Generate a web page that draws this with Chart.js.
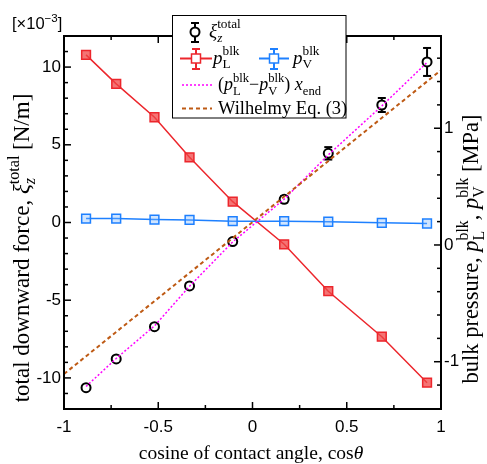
<!DOCTYPE html>
<html>
<head>
<meta charset="utf-8">
<script src="https://cdn.jsdelivr.net/npm/chart.js@4.4.0/dist/chart.umd.min.js"></script>
<style>
  html, body { margin: 0; padding: 0; background: #fff; }
  canvas { display: block; }
</style>
</head>
<body>
<canvas id="forceChart" width="487" height="464"></canvas>
<script>
// cos(theta) of the simulated contact angles
const cosTheta = [-0.883, -0.723, -0.520, -0.334, -0.105, 0.168, 0.402, 0.686, 0.926];
// total downward force xi_z^total [x1e-3 N/m] and its error bar
const xiTotal = [-10.63, -8.78, -6.70, -4.08, -1.23, 1.49, 4.45, 7.56, 10.33];
const xiError = [0.12, 0.12, 0.12, 0.15, 0.15, 0.2, 0.4, 0.45, 0.9];
// bulk pressures [MPa]
const pLiquid = [1.628, 1.380, 1.094, 0.751, 0.371, 0.006, -0.396, -0.786, -1.180];
const pVapor = [0.226, 0.226, 0.218, 0.214, 0.204, 0.204, 0.199, 0.190, 0.184];
// (pL - pV) x_end [x1e-3 N/m]
const pressureForce = [-10.55, -8.75, -6.65, -4.10, -1.25, 1.50, 4.35, 7.50, 10.30];
// Wilhelmy Eq. (3)
const wilhelmyCos = [-1, 1];
const wilhelmyForce = [-9.75, 9.80];

const xTicks = [-1, -0.5, 0, 0.5, 1];
const yTicks = [-10, -5, 0, 5, 10];
const y1Ticks = [-1, 0, 1];

const SERIF = '"Liberation Serif", "Times New Roman", serif';
const SANS = '"Liberation Sans", Arial, sans-serif';
const RED = 'rgb(236, 38, 44)';
const BLUE = 'rgb(30, 128, 255)';
const MAGENTA = 'rgb(255, 0, 255)';
const BROWN = 'rgb(190, 90, 20)';

const pts = (xs, ys) => xs.map((x, i) => ({ x: x, y: ys[i] }));

function setFont(ctx, size, italic, fam) {
    ctx.font = (italic ? 'italic ' : '') + size + 'px ' + fam;
}

// segments: {t, it} plain text, or {lo, hi, loIt} stacked sub/superscript
function richWidth(ctx, segs, size, fam) {
    let w = 0;
    segs.forEach(s => {
        if (s.t !== undefined) {
            setFont(ctx, size, s.it, fam);
            w += ctx.measureText(s.t).width;
        } else {
            const small = size * 0.7;
            let a = 0, b = 0;
            if (s.lo) { setFont(ctx, small, s.loIt, fam); a = ctx.measureText(s.lo).width; }
            if (s.hi) { setFont(ctx, small, false, fam); b = ctx.measureText(s.hi).width; }
            w += Math.max(a, b);
        }
    });
    return w;
}

function drawRich(ctx, segs, x, y, size, fam) {
    ctx.textAlign = 'left';
    ctx.textBaseline = 'alphabetic';
    segs.forEach(s => {
        if (s.t !== undefined) {
            setFont(ctx, size, s.it, fam);
            ctx.fillText(s.t, x, y);
            x += ctx.measureText(s.t).width;
        } else {
            const small = size * 0.7;
            let a = 0, b = 0;
            if (s.lo) {
                setFont(ctx, small, s.loIt, fam);
                ctx.fillText(s.lo, x, y + size * 0.25);
                a = ctx.measureText(s.lo).width;
            }
            if (s.hi) {
                setFont(ctx, small, false, fam);
                ctx.fillText(s.hi, x, y - size * 0.45);
                b = ctx.measureText(s.hi).width;
            }
            x += Math.max(a, b);
        }
    });
}

function line(ctx, x1, y1, x2, y2) {
    ctx.beginPath();
    ctx.moveTo(x1, y1);
    ctx.lineTo(x2, y2);
    ctx.stroke();
}

// error bars drawn underneath the markers of datasets that carry "errors"
const errorBars = {
    id: 'errorBars',
    beforeDatasetDraw(chart, args) {
        const ds = chart.data.datasets[args.index];
        if (!ds.errors) return;
        const ctx = chart.ctx;
        const yScale = chart.scales[ds.yAxisID];
        ctx.save();
        ctx.strokeStyle = ds.borderColor;
        ctx.lineWidth = 2;
        args.meta.data.forEach((pt, i) => {
            const v = ds.data[i].y, e = ds.errors[i];
            const top = yScale.getPixelForValue(v + e);
            const bot = yScale.getPixelForValue(v - e);
            line(ctx, pt.x, top, pt.x, bot);
            line(ctx, pt.x - 4, top, pt.x + 4, top);
            line(ctx, pt.x - 4, bot, pt.x + 4, bot);
        });
        ctx.restore();
    }
};

// box frame with inward ticks on all four sides
const frameTicks = {
    id: 'frameTicks',
    afterDatasetsDraw(chart) {
        const { ctx, chartArea: a, scales } = chart;
        ctx.save();
        ctx.strokeStyle = '#000';
        ctx.lineWidth = 1.5;
        for (let i = 0; i <= 8; i++) {
            const px = scales.x.getPixelForValue(-1 + i * 0.25);
            const len = i % 2 === 0 ? 7 : 4;
            line(ctx, px, a.bottom, px, a.bottom - len);
            line(ctx, px, a.top, px, a.top + len);
        }
        for (let v = -11; v <= 11; v++) {
            const py = scales.y.getPixelForValue(v);
            line(ctx, a.left, py, a.left + (v % 5 === 0 ? 7 : 4), py);
        }
        for (let k = -7; k <= 8; k++) {
            const py = scales.y1.getPixelForValue(k * 0.2);
            if (py < a.top + 1 || py > a.bottom - 1) continue;
            line(ctx, a.right, py, a.right - (k % 5 === 0 ? 7 : 4), py);
        }
        ctx.lineWidth = 2;
        ctx.strokeRect(a.left, a.top, a.right - a.left, a.bottom - a.top);
        ctx.restore();
    }
};

const pL = [{ t: 'p', it: true }, { lo: 'L', hi: 'blk' }];
const pV = [{ t: 'p', it: true }, { lo: 'V', hi: 'blk' }];
const xi = [{ t: 'ξ', it: true }, { lo: 'z', loIt: true, hi: 'total' }];

function drawSquare(ctx, x, y, color, fill) {
    ctx.fillStyle = fill;
    ctx.fillRect(x - 4.5, y - 4.5, 9, 9);
    ctx.strokeStyle = color;
    ctx.lineWidth = 1.5;
    ctx.strokeRect(x - 4.5, y - 4.5, 9, 9);
}

function drawErrSym(ctx, x, y1, y2, color) {
    ctx.strokeStyle = color;
    ctx.lineWidth = 2;
    line(ctx, x, y1, x, y2);
    line(ctx, x - 4, y1, x + 4, y1);
    line(ctx, x - 4, y2, x + 4, y2);
}

const legendBox = {
    id: 'legendBox',
    afterDraw(chart) {
        const ctx = chart.ctx;
        ctx.save();
        ctx.fillStyle = '#fff';
        ctx.fillRect(172.5, 15.5, 173.5, 102.5);
        ctx.strokeStyle = '#000';
        ctx.lineWidth = 1;
        ctx.strokeRect(172.5, 15.5, 173.5, 102.5);

        // row 1: xi total
        drawErrSym(ctx, 195, 23, 42, '#000');
        ctx.beginPath();
        ctx.arc(195, 32, 4.5, 0, Math.PI * 2);
        ctx.fillStyle = '#fff';
        ctx.fill();
        ctx.stroke();
        ctx.fillStyle = '#000';
        drawRich(ctx, xi, 209, 37, 19, SERIF);

        // row 2: pL and pV
        ctx.strokeStyle = RED;
        ctx.lineWidth = 2;
        line(ctx, 180, 58.5, 212, 58.5);
        drawErrSym(ctx, 196, 49, 69, RED);
        drawSquare(ctx, 196, 58.5, RED, '#fff');
        ctx.fillStyle = '#000';
        drawRich(ctx, pL, 213, 63.5, 19, SERIF);

        ctx.strokeStyle = BLUE;
        ctx.lineWidth = 2;
        line(ctx, 259, 58.5, 289, 58.5);
        drawErrSym(ctx, 274, 49, 69, BLUE);
        drawSquare(ctx, 274, 58.5, BLUE, '#fff');
        ctx.fillStyle = '#000';
        drawRich(ctx, pV, 293, 63.5, 19, SERIF);

        // row 3: (pL - pV) x_end
        ctx.strokeStyle = MAGENTA;
        ctx.lineWidth = 1.5;
        ctx.setLineDash([2, 2]);
        line(ctx, 182, 85, 212, 85);
        ctx.fillStyle = '#000';
        drawRich(ctx, [{ t: '(' }].concat(pL, [{ t: '−' }], pV,
            [{ t: ') ' }, { t: 'x', it: true }, { lo: 'end' }]), 218, 90, 18, SERIF);

        // row 4: Wilhelmy
        ctx.strokeStyle = BROWN;
        ctx.lineWidth = 2;
        ctx.setLineDash([4, 3]);
        line(ctx, 182, 108.5, 212, 108.5);
        ctx.setLineDash([]);
        drawRich(ctx, [{ t: 'Wilhelmy Eq. (3)' }], 218, 113.5, 18.5, SERIF);
        ctx.restore();
    }
};

// axis titles and the exponent note
const titles = {
    id: 'titles',
    afterDraw(chart) {
        const ctx = chart.ctx;
        ctx.save();
        ctx.fillStyle = '#000';

        const xt = [{ t: 'cosine of contact angle, cos' }, { t: 'θ', it: true }];
        drawRich(ctx, xt, 251 - richWidth(ctx, xt, 19.5, SERIF) / 2, 459, 19.5, SERIF);

        const yt = [{ t: 'total downward force, ' }].concat(xi, [{ t: ' [N/m]' }]);
        ctx.save();
        ctx.translate(29, 248);
        ctx.rotate(-Math.PI / 2);
        drawRich(ctx, yt, -richWidth(ctx, yt, 23, SERIF) / 2, 0, 23, SERIF);
        ctx.restore();

        const y1t = [{ t: 'bulk pressure, ' }].concat(pL, [{ t: ', ' }], pV, [{ t: ' [MPa]' }]);
        ctx.save();
        ctx.translate(478, 249);
        ctx.rotate(-Math.PI / 2);
        drawRich(ctx, y1t, -richWidth(ctx, y1t, 22.5, SERIF) / 2, 0, 22.5, SERIF);
        ctx.restore();

        drawRich(ctx, [{ t: '[×10' }, { hi: '−3' }, { t: ']' }], 12, 29, 16.5, SANS);
        ctx.restore();
    }
};

const tickFont = { family: SANS, size: 17 };
const plainLabel = v => String(v);

const ctx = document.getElementById('forceChart').getContext('2d');
new Chart(ctx, {
    type: 'scatter',
    data: {
        datasets: [
            {
                label: 'Wilhelmy Eq. (3)',
                data: pts(wilhelmyCos, wilhelmyForce),
                yAxisID: 'y',
                showLine: true,
                borderColor: BROWN,
                borderWidth: 2,
                borderDash: [4, 3],
                pointRadius: 0
            },
            {
                label: '(pL - pV) x_end',
                data: pts(cosTheta, pressureForce),
                yAxisID: 'y',
                showLine: true,
                borderColor: MAGENTA,
                borderWidth: 1.5,
                borderDash: [2, 2],
                pointRadius: 0
            },
            {
                label: 'pV blk',
                data: pts(cosTheta, pVapor),
                yAxisID: 'y1',
                showLine: true,
                borderColor: BLUE,
                borderWidth: 1.5,
                pointStyle: 'rect',
                pointRadius: 6.2,
                pointBorderWidth: 1.5,
                pointBackgroundColor: 'rgba(120, 180, 255, 0.35)'
            },
            {
                label: 'pL blk',
                data: pts(cosTheta, pLiquid),
                yAxisID: 'y1',
                showLine: true,
                borderColor: RED,
                borderWidth: 1.5,
                pointStyle: 'rect',
                pointRadius: 6.2,
                pointBorderWidth: 1.5,
                pointBackgroundColor: 'rgba(240, 70, 70, 0.75)'
            },
            {
                label: 'xi total',
                data: pts(cosTheta, xiTotal),
                errors: xiError,
                yAxisID: 'y',
                showLine: false,
                borderColor: '#000',
                pointStyle: 'circle',
                pointRadius: 4.5,
                pointBorderWidth: 2,
                pointBackgroundColor: '#fff'
            }
        ]
    },
    options: {
        responsive: false,
        animation: false,
        devicePixelRatio: 1,
        layout: { padding: { top: 36, left: 0, right: 0, bottom: 0 } },
        plugins: {
            legend: { display: false },
            tooltip: { enabled: false }
        },
        scales: {
            x: {
                type: 'linear',
                min: -1,
                max: 1,
                grid: { display: false, drawTicks: false },
                border: { display: false },
                afterBuildTicks: s => { s.ticks = xTicks.map(v => ({ value: v })); },
                afterFit: s => { s.height = 55; },
                ticks: { padding: 8, color: '#000', font: tickFont, maxRotation: 0, autoSkip: false, callback: plainLabel }
            },
            y: {
                position: 'left',
                min: -12,
                max: 12,
                grid: { display: false, drawTicks: false },
                border: { display: false },
                afterBuildTicks: s => { s.ticks = yTicks.map(v => ({ value: v })); },
                afterFit: s => { s.width = 64; },
                ticks: { padding: 3, color: '#000', font: tickFont, autoSkip: false, callback: plainLabel }
            },
            y1: {
                position: 'right',
                min: -1.405,
                max: 1.79,
                grid: { display: false, drawTicks: false },
                border: { display: false },
                afterBuildTicks: s => { s.ticks = y1Ticks.map(v => ({ value: v })); },
                afterFit: s => { s.width = 46; },
                ticks: { padding: 3, color: '#000', font: tickFont, autoSkip: false, callback: plainLabel }
            }
        }
    },
    plugins: [errorBars, frameTicks, legendBox, titles]
});
</script>
</body>
</html>
